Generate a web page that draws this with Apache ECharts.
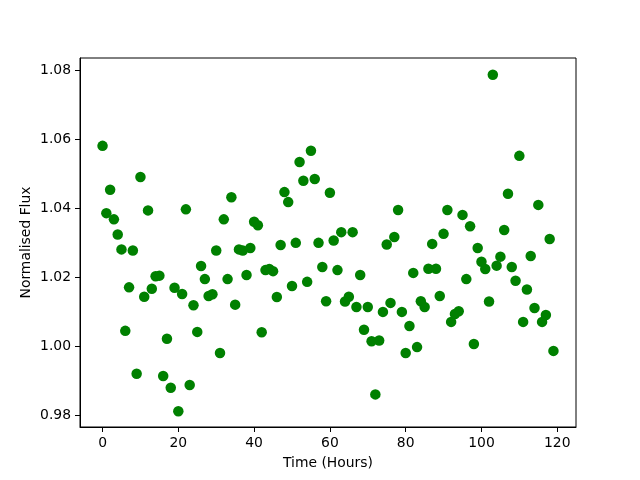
<!DOCTYPE html>
<html>
<head>
<meta charset="utf-8">
<script src="https://cdn.jsdelivr.net/npm/echarts@6/dist/echarts.min.js"></script>
<style>html,body{margin:0;padding:0;background:#fff}#c{width:640px;height:480px}</style>
</head>
<body>
<div id="c"></div>
<script>
const hours = [];
for (let i = 0; i < 120; i++) hours.push(i);
const flux = [
1.058, 1.0385, 1.0453, 1.0367, 1.0323, 1.028, 1.0044, 1.017, 1.0277, 0.992,
1.049, 1.0143, 1.0393, 1.0166, 1.0202, 1.0204, 0.9913, 1.0021, 0.9879, 1.0169,
0.9811, 1.0151, 1.0396, 0.9887, 1.0118, 1.0041, 1.0232, 1.0194, 1.0145, 1.015,
1.0277, 0.998, 1.0367, 1.0194, 1.0431, 1.012, 1.028, 1.0277, 1.0206, 1.0284,
1.036, 1.035, 1.004, 1.022, 1.0223, 1.0217, 1.0142, 1.0293, 1.0446, 1.0417,
1.0174, 1.0299, 1.0533, 1.0479, 1.0186, 1.0566, 1.0484, 1.0299, 1.0229, 1.013,
1.0444, 1.0306, 1.022, 1.033, 1.0129, 1.0143, 1.033, 1.0113, 1.0206, 1.0047,
1.0113, 1.0014, 0.986, 1.0016, 1.0099, 1.0294, 1.0125, 1.0316, 1.0394, 1.0099,
0.998, 1.0058, 1.0212, 0.9997, 1.013, 1.0113, 1.0224, 1.0296, 1.0224, 1.0145,
1.0325, 1.0394, 1.007, 1.0093, 1.0101, 1.038, 1.0194, 1.0347, 1.0006, 1.0284,
1.0244, 1.0223, 1.0129, 1.0786, 1.0233, 1.0259, 1.0336, 1.0441, 1.0229, 1.0189,
1.0551, 1.007, 1.0164, 1.0261, 1.011, 1.0409, 1.007, 1.009, 1.031, 0.9986
];
const xTicks = [0, 20, 40, 60, 80, 100, 120];
const yTicks = [0.98, 1.00, 1.02, 1.04, 1.06, 1.08];

const data = hours.map((h, i) => [h, flux[i]]);
const font = 'DejaVu Sans';
const chart = echarts.init(document.getElementById('c'), null, {renderer: 'canvas'});
chart.setOption({
  animation: false,
  backgroundColor: '#fff',
  grid: {left: 80, right: 64, top: 58, bottom: 53, show: true, borderColor: '#000', borderWidth: 1, backgroundColor: 'transparent'},
  xAxis: {
    type: 'value', min: -5.95, max: 124.95,
    name: 'Time (Hours)', nameLocation: 'middle', nameGap: 29, nameMoveOverlap: false,
    nameTextStyle: {fontFamily: font, fontSize: 13.9, color: '#000'},
    splitLine: {show: false},
    axisLine: {show: true, onZero: false, lineStyle: {color: '#000', width: 1}},
    axisTick: {show: true, length: 5, lineStyle: {color: '#000'}, customValues: xTicks},
    axisLabel: {fontFamily: font, fontSize: 13.9, color: '#000', margin: 9, customValues: xTicks, formatter: v => String(v)}
  },
  yAxis: {
    type: 'value', min: 0.97655, max: 1.08345,
    name: 'Normalised Flux', nameLocation: 'middle', nameGap: 47, nameMoveOverlap: false,
    nameTextStyle: {fontFamily: font, fontSize: 13.9, color: '#000'},
    splitLine: {show: false},
    axisLine: {show: true, onZero: false, lineStyle: {color: '#000', width: 1}},
    axisTick: {show: true, length: 5, lineStyle: {color: '#000'}, customValues: yTicks},
    axisLabel: {fontFamily: font, fontSize: 13.9, color: '#000', margin: 9, customValues: yTicks, formatter: v => v.toFixed(2)}
  },
  series: [{
    type: 'scatter',
    data: data,
    symbolSize: 10.5,
    itemStyle: {color: '#008000', opacity: 1},
    emphasis: {disabled: true}
  }]
});
</script>
</body>
</html>
